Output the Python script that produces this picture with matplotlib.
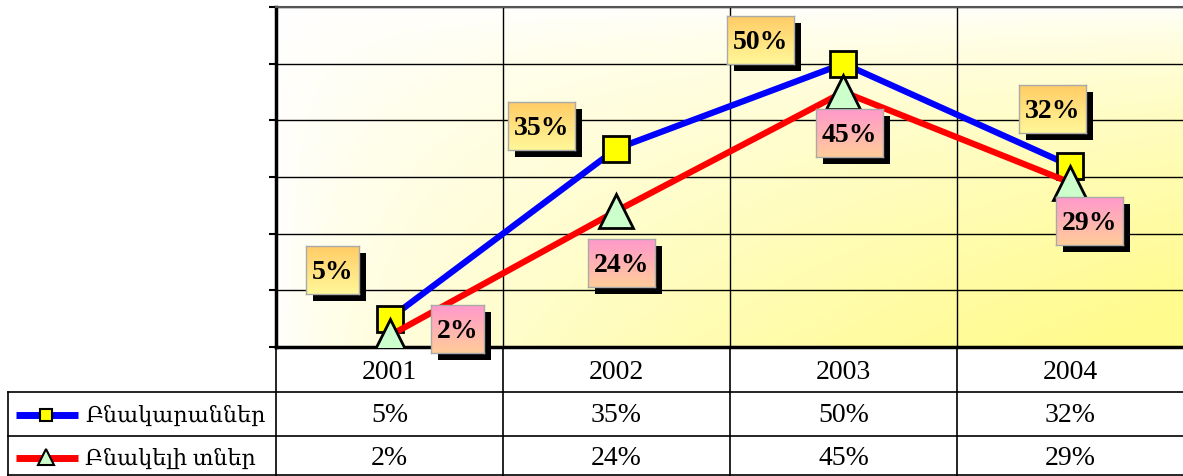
import matplotlib.pyplot as plt
import matplotlib.colors as mcolors
import numpy as np

# data
years = ['2001', '2002', '2003', '2004']
apartments = [5, 35, 50, 32]
houses = [2, 24, 45, 29]
names = ['Բնակարաններ', 'Բնակելի տներ']

# label box offsets from the point, in pixels (screen y down)
off_apart = [(-57, -49), (-75, -23), (-83, -24), (-18, -57)]
off_house = [(68, -7), (5, 52), (6, 41), (19, 38)]

W, H = 1183, 477
fig = plt.figure(figsize=(W / 100, H / 100), dpi=100)
FONT = ['Liberation Serif', 'DejaVu Serif', 'DejaVu Sans']


def rect(x0, y0, x1, y1):
    # pixel box (origin top-left) -> figure fraction
    return [x0 / W, 1 - y1 / H, (x1 - x0) / W, (y1 - y0) / H]


# overlay in pixel units for the data table
tab = fig.add_axes([0, 0, 1, 1])
tab.set_xlim(0, W)
tab.set_ylim(H, 0)
tab.axis('off')

ax = fig.add_axes(rect(276, 8, 1184, 348))
x = np.arange(len(years)) + 0.5
ax.set_xlim(0, len(years))
ax.set_ylim(0, 60)

# background gradient: white top-left -> pale yellow bottom-right
gx, gy = np.meshgrid(np.linspace(0, 1, 200), np.linspace(0, 1, 200))
t = np.clip(np.sqrt(gx * (1 - gy)) * 1.05, 0, 1) ** 1.2
white = np.array(mcolors.to_rgb('#ffffff'))
yellow = np.array(mcolors.to_rgb('#fffb8c'))
img = white[None, None, :] * (1 - t[..., None]) + yellow[None, None, :] * t[..., None]
ax.imshow(img, extent=(0, len(years), 0, 60), origin='lower', aspect='auto', zorder=0)

ax.set_yticks(np.arange(0, 61, 10))
ax.set_yticklabels([])
ax.set_xticks(np.arange(0, len(years) + 1))
ax.set_xticklabels([])
ax.tick_params(axis='y', direction='out', length=5, width=1.5)
ax.tick_params(axis='x', length=0)
ax.grid(True, color='black', linewidth=1.0)
ax.spines['left'].set_linewidth(2.5)
ax.spines['bottom'].set_linewidth(2.5)
ax.spines['top'].set_linewidth(1.5)
ax.spines['top'].set_color('#555555')

ax.plot(x, apartments, color='#0000ff', linewidth=4.5, marker='s', markersize=19,
        markerfacecolor='#ffff00', markeredgecolor='black', markeredgewidth=2, zorder=3)
ax.plot(x, houses, color='#ff0000', linewidth=4.5, marker='^', markersize=25,
        markerfacecolor='#ccffcc', markeredgecolor='black', markeredgewidth=2, zorder=4)


def label_box(px_, py_, text, top, bottom):
    w = 25 + 14 * len(text)
    h = 48
    x0, y0 = px_ - w / 2, py_ - h / 2
    sh = fig.add_axes(rect(x0 + 7, y0 + 7, x0 + w + 7, y0 + h + 7))
    sh.set_facecolor('black')
    sh.set_xticks([])
    sh.set_yticks([])
    for s in sh.spines.values():
        s.set_visible(False)
    b = fig.add_axes(rect(x0, y0, x0 + w, y0 + h))
    c1 = np.array(mcolors.to_rgb(top))
    c2 = np.array(mcolors.to_rgb(bottom))
    tt = np.linspace(0, 1, 50)[:, None]
    grad = (c1 * (1 - tt) + c2 * tt)[:, None, :]
    b.imshow(grad, aspect='auto', extent=(0, 1, 0, 1), origin='upper')
    b.set_xticks([])
    b.set_yticks([])
    for s in b.spines.values():
        s.set_color('#aaaaaa')
        s.set_linewidth(1)
    b.text(0.5, 0.47, text, ha='center', va='center', fontsize=20,
           fontweight='bold', family=FONT, transform=b.transAxes)


for i in range(len(years)):
    dx, dy = ax.transData.transform((x[i], apartments[i]))
    label_box(dx + off_apart[i][0], H - dy + off_apart[i][1],
              f'{apartments[i]}%', '#ffcc66', '#fff799')
for i in range(len(years)):
    dx, dy = ax.transData.transform((x[i], houses[i]))
    label_box(dx + off_house[i][0], H - dy + off_house[i][1],
              f'{houses[i]}%', '#ff99cc', '#ffcc99')

# data table
bounds = [ax.transData.transform((b, 0))[0] for b in range(len(years) + 1)]
for bx in bounds:
    tab.plot([bx, bx], [348, H], color='black', linewidth=1.2)
tab.plot([8, W], [393, 393], color='black', linewidth=1.2)
tab.plot([8, W], [437, 437], color='black', linewidth=1.2)
tab.plot([8, W], [476, 476], color='black', linewidth=1.2)
tab.plot([8, 8], [393, H], color='black', linewidth=1.2)

row_y = [373, 416, 459]
for i in range(len(years)):
    cx = ax.transData.transform((x[i], 0))[0]
    tab.text(cx, row_y[0], years[i], ha='center', va='center', fontsize=20, family=FONT)
    tab.text(cx, row_y[1], f'{apartments[i]}%', ha='center', va='center', fontsize=20, family=FONT)
    tab.text(cx, row_y[2], f'{houses[i]}%', ha='center', va='center', fontsize=20, family=FONT)

# legend keys in the table
tab.plot([16, 78], [row_y[1]] * 2, color='#0000ff', linewidth=5, solid_capstyle='butt')
tab.plot([46], [row_y[1]], marker='s', markersize=9, markerfacecolor='#ffff00',
         markeredgecolor='black', markeredgewidth=1.5)
tab.plot([16, 78], [row_y[2]] * 2, color='#ff0000', linewidth=5, solid_capstyle='butt')
tab.plot([46], [row_y[2] - 1], marker='^', markersize=12, markerfacecolor='#ccffcc',
         markeredgecolor='black', markeredgewidth=1.5)
tab.text(85, row_y[1], names[0], ha='left', va='center', fontsize=16, family=FONT)
tab.text(85, row_y[2], names[1], ha='left', va='center', fontsize=16, family=FONT)

fig.savefig('out.png', dpi=100)
